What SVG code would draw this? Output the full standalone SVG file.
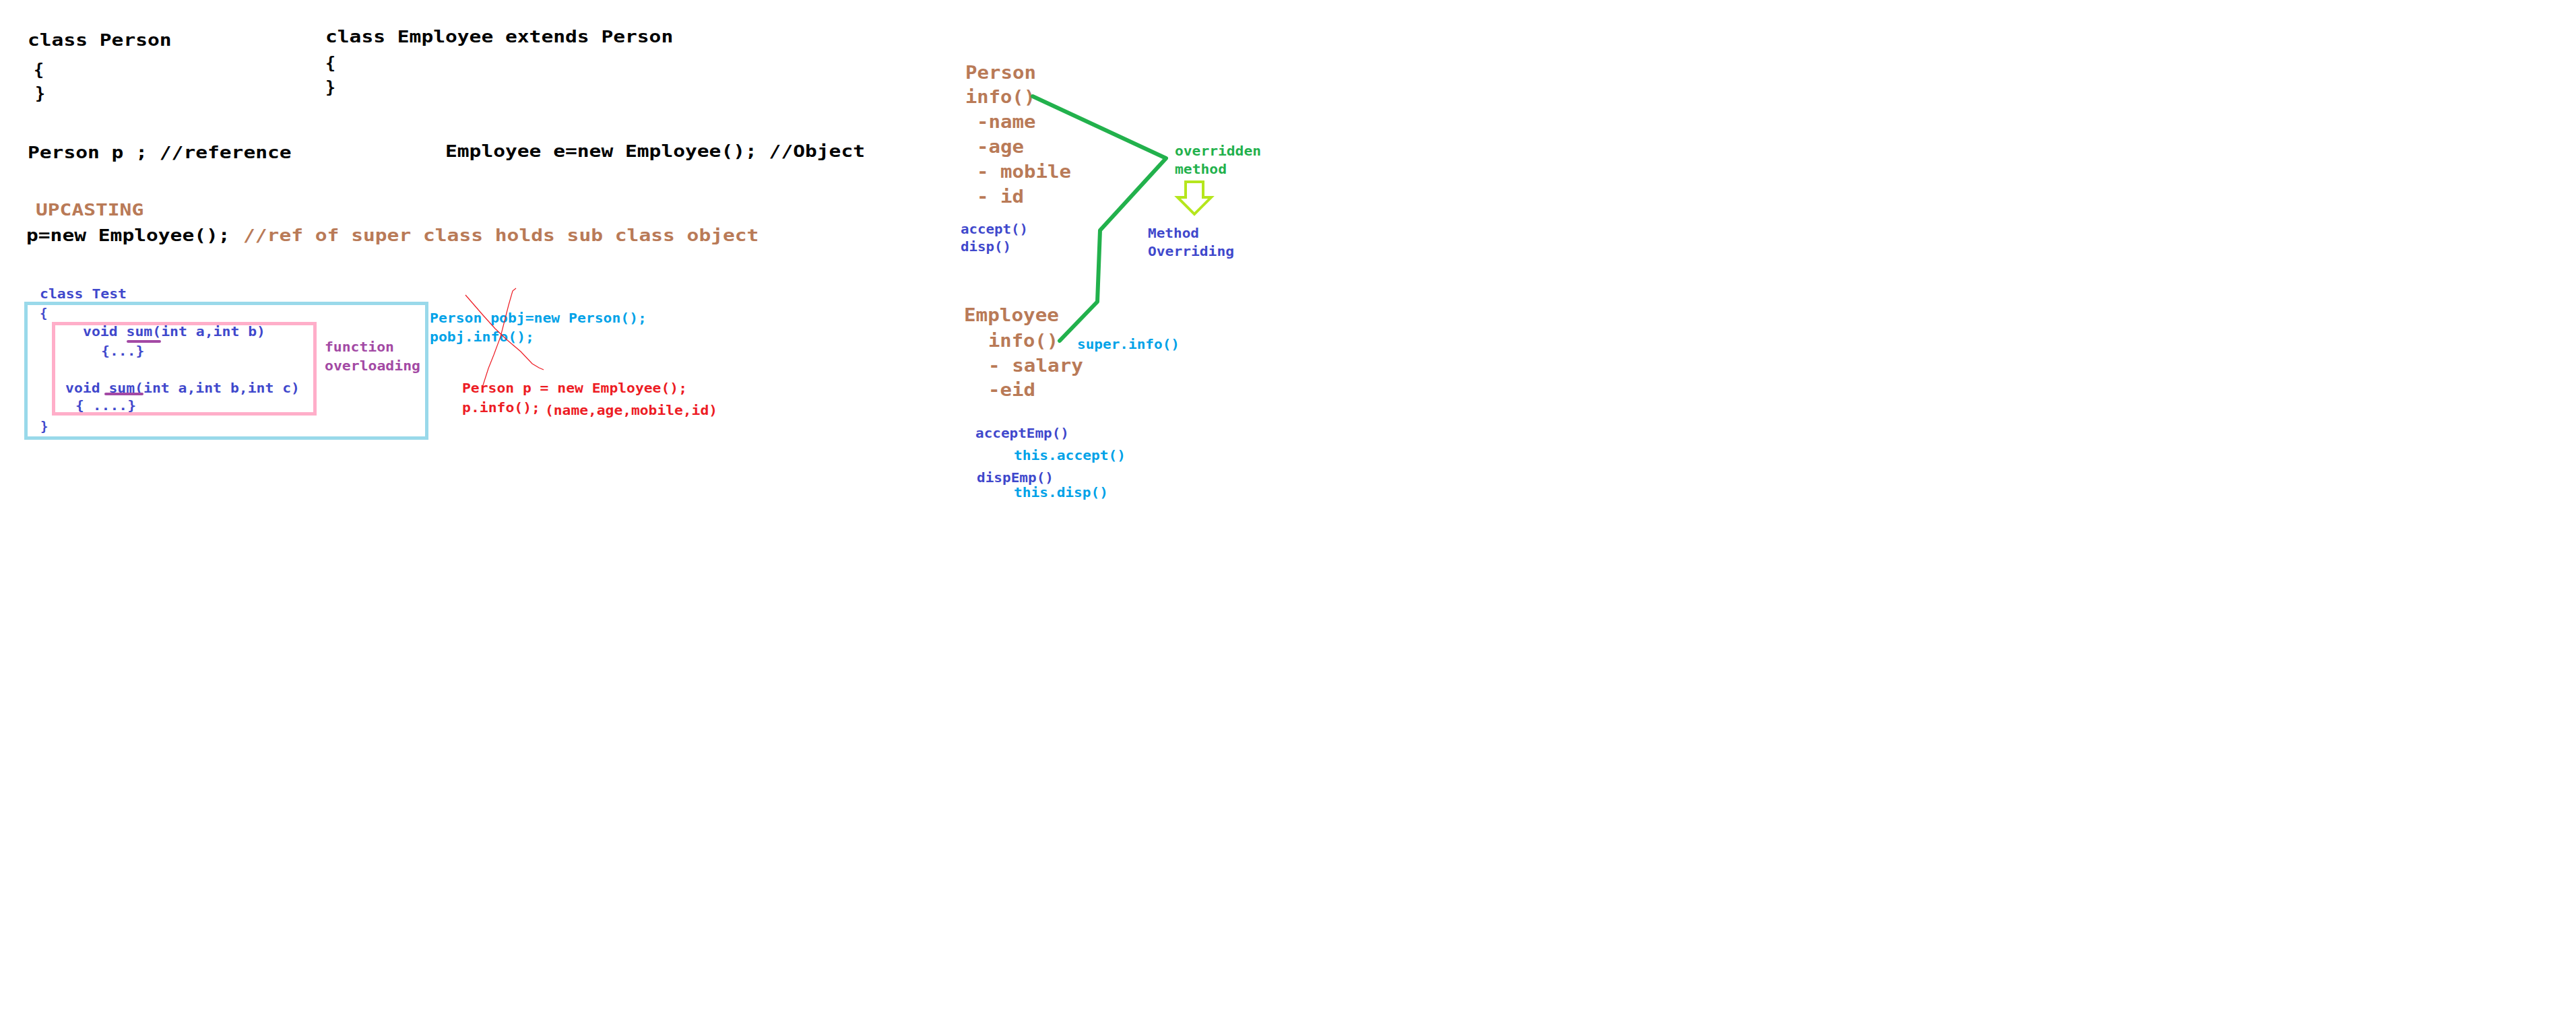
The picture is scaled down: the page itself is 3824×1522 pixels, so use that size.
<svg xmlns="http://www.w3.org/2000/svg" width="3824" height="1522" viewBox="0 0 3824 1522">
<style>
text{font-family:"DejaVu Sans Mono","Liberation Mono",monospace;font-weight:bold}
.big{font-size:25px}
.med{font-size:19px}
.br{font-size:27px}
.k{fill:#000}
.brown{fill:#B97A57}
.ind{fill:#3F48CC}
.cy{fill:#00A2E8}
.red{fill:#ED1C24}
.grn{fill:#22B14C}
.pur{fill:#A349A4}
</style>
<rect width="3824" height="1522" fill="#fff"/>

<g id="person-class">
<text class="big k" x="41" y="68" textLength="213.6" lengthAdjust="spacingAndGlyphs">class Person</text>
<text class="big k" x="50" y="112">{</text>
<text class="big k" x="52" y="147">}</text>
</g>

<g id="employee-class">
<text class="big k" x="483" y="63" textLength="516.2" lengthAdjust="spacingAndGlyphs">class Employee extends Person</text>
<text class="big k" x="483" y="102">{</text>
<text class="big k" x="483" y="138">}</text>
</g>

<g id="reference">
<text class="big k" x="41" y="235" textLength="391.6" lengthAdjust="spacingAndGlyphs">Person p ; //reference</text>
</g>

<g id="object">
<text class="big k" x="661" y="233" textLength="623" lengthAdjust="spacingAndGlyphs">Employee e=new Employee(); //Object</text>
</g>

<g id="upcasting">
<text class="big brown" x="53" y="320" textLength="160.2" lengthAdjust="spacingAndGlyphs">UPCASTING</text>
<text class="big k" x="39" y="358" textLength="302.6" lengthAdjust="spacingAndGlyphs">p=new Employee();</text>
<text class="big brown" x="361" y="358" textLength="765.4" lengthAdjust="spacingAndGlyphs">//ref of super class holds sub class object</text>
</g>

<g id="class-test">
<text class="med ind" x="59" y="443" textLength="129" lengthAdjust="spacingAndGlyphs">class Test</text>
<rect x="38.5" y="450.5" width="595" height="200" fill="none" stroke="#99D9EA" stroke-width="5"/>
<text class="med ind" x="59" y="472">{</text>
<text class="med ind" x="60" y="640">}</text>
</g>

<g id="overloading-box">
<rect x="79.5" y="480.5" width="388" height="134" fill="none" stroke="#FFAEC9" stroke-width="5"/>
<text class="med ind" x="123" y="499" textLength="271" lengthAdjust="spacingAndGlyphs">void sum(int a,int b)</text>
<line x1="190" y1="507" x2="237" y2="507" stroke="#A349A4" stroke-width="4" stroke-linecap="round"/>
<text class="med ind" x="150" y="528" textLength="64.5" lengthAdjust="spacingAndGlyphs">{...}</text>
<text class="med ind" x="97" y="583" textLength="348" lengthAdjust="spacingAndGlyphs">void sum(int a,int b,int c)</text>
<line x1="157" y1="585" x2="211" y2="585" stroke="#A349A4" stroke-width="4" stroke-linecap="round"/>
<text class="med ind" x="112" y="609" textLength="90" lengthAdjust="spacingAndGlyphs">{ ....}</text>
</g>

<g id="function-overloading">
<text class="med pur" x="482" y="522" textLength="103" lengthAdjust="spacingAndGlyphs">function</text>
<text class="med pur" x="482" y="550" textLength="142" lengthAdjust="spacingAndGlyphs">overloading</text>
</g>

<g id="pobj">
<text class="med cy" x="638" y="479" textLength="322" lengthAdjust="spacingAndGlyphs">Person pobj=new Person();</text>
<text class="med cy" x="638" y="507" textLength="155" lengthAdjust="spacingAndGlyphs">pobj.info();</text>
<path d="M691,438 L717,468 L735,488 L753,505 L773,522 L790,540 L800,546 L807,549" fill="none" stroke="#ED1C24" stroke-width="1.2"/>
<path d="M766,428 L761,432 L755,453 L743,500 L733,527 L725,547 L717,572" fill="none" stroke="#ED1C24" stroke-width="1.2"/>
</g>

<g id="person-p">
<text class="med red" x="686" y="583" textLength="334" lengthAdjust="spacingAndGlyphs">Person p = new Employee();</text>
<text class="med red" x="686" y="612" textLength="116" lengthAdjust="spacingAndGlyphs">p.info();</text>
<text class="med red" x="809" y="616" textLength="256" lengthAdjust="spacingAndGlyphs">(name,age,mobile,id)</text>
</g>

<g id="person-node">
<text class="br brown" x="1433" y="117" textLength="105" lengthAdjust="spacingAndGlyphs">Person</text>
<text class="br brown" x="1433" y="153" textLength="104" lengthAdjust="spacingAndGlyphs">info()</text>
<text class="br brown" x="1450" y="190" textLength="87.5" lengthAdjust="spacingAndGlyphs">-name</text>
<text class="br brown" x="1450" y="227" textLength="70" lengthAdjust="spacingAndGlyphs">-age</text>
<text class="br brown" x="1450" y="264" textLength="140" lengthAdjust="spacingAndGlyphs">- mobile</text>
<text class="br brown" x="1450" y="301" textLength="70" lengthAdjust="spacingAndGlyphs">- id</text>
<text class="med ind" x="1426" y="347" textLength="100" lengthAdjust="spacingAndGlyphs">accept()</text>
<text class="med ind" x="1426" y="373" textLength="75" lengthAdjust="spacingAndGlyphs">disp()</text>
</g>

<g id="overridden-label">
<text class="med grn" x="1744" y="231" textLength="128" lengthAdjust="spacingAndGlyphs">overridden</text>
<text class="med grn" x="1744" y="258" textLength="77" lengthAdjust="spacingAndGlyphs">method</text>
</g>

<g id="method-overriding">
<text class="med ind" x="1704" y="353" textLength="76" lengthAdjust="spacingAndGlyphs">Method</text>
<text class="med ind" x="1704" y="380" textLength="128" lengthAdjust="spacingAndGlyphs">Overriding</text>
</g>

<g id="employee-node">
<text class="br brown" x="1431" y="477" textLength="141" lengthAdjust="spacingAndGlyphs">Employee</text>
<text class="br brown" x="1467" y="515" textLength="104" lengthAdjust="spacingAndGlyphs">info()</text>
<text class="br brown" x="1467" y="552" textLength="141" lengthAdjust="spacingAndGlyphs">- salary</text>
<text class="br brown" x="1467" y="588" textLength="70" lengthAdjust="spacingAndGlyphs">-eid</text>
<text class="med cy" x="1599" y="518" textLength="152" lengthAdjust="spacingAndGlyphs">super.info()</text>
<text class="med ind" x="1448" y="650" textLength="139" lengthAdjust="spacingAndGlyphs">acceptEmp()</text>
<text class="med cy" x="1505" y="683" textLength="166" lengthAdjust="spacingAndGlyphs">this.accept()</text>
<text class="med ind" x="1450" y="716" textLength="114" lengthAdjust="spacingAndGlyphs">dispEmp()</text>
<text class="med cy" x="1505" y="738" textLength="140" lengthAdjust="spacingAndGlyphs">this.disp()</text>
</g>

<g id="connectors">
<polyline points="1533,143 1731,235 1633,342 1629,448 1573,506" fill="none" stroke="#22B14C" stroke-width="6" stroke-linejoin="round" stroke-linecap="round"/>
<polygon points="1760,270 1786,270 1786,293 1798,293 1773,318 1748,293 1760,293" fill="none" stroke="#B5E61D" stroke-width="4"/>
</g>
</svg>
